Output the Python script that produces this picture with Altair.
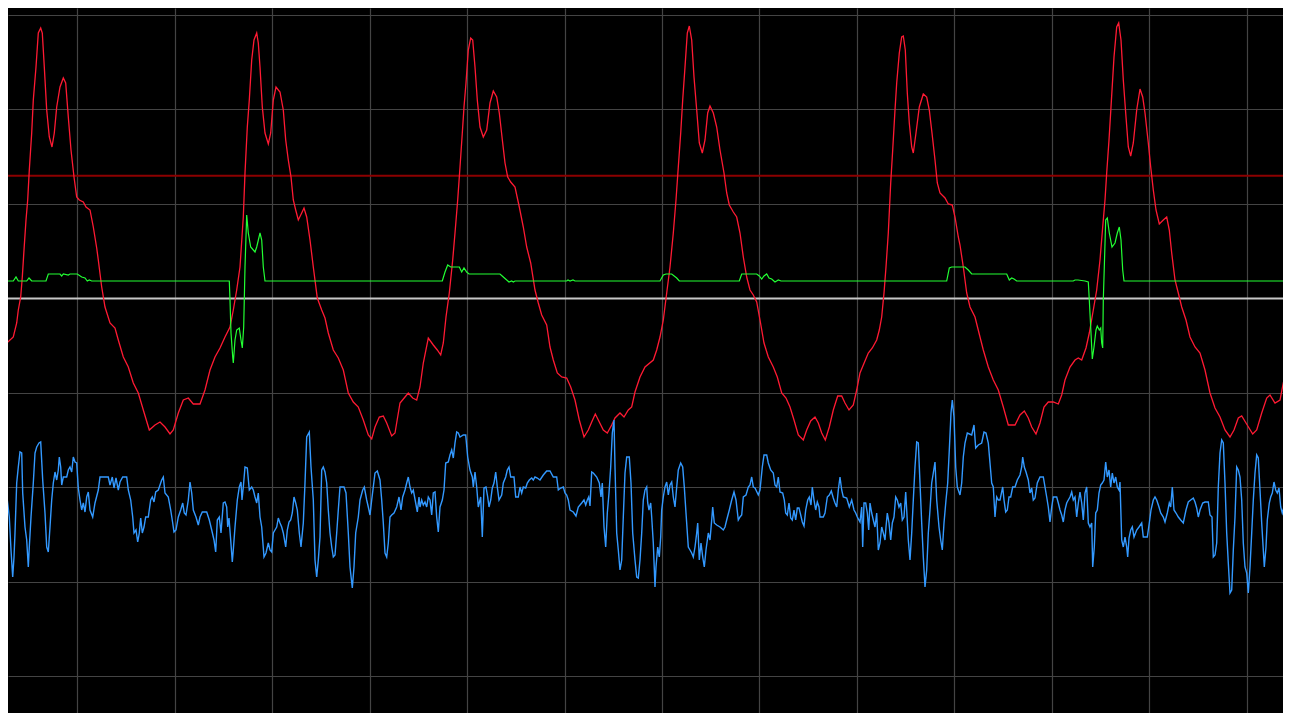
import altair as alt
import pandas as pd

# Sample index (horizontal) and screen level (downwards)
grid_t = [77.4, 174.8, 272.3, 369.6, 467.1, 564.5, 661.9, 759.3, 856.8, 954.2, 1051.6, 1149.0, 1246.5]
grid_v = [14.7, 109.2, 203.7, 298.2, 392.7, 487.2, 581.7, 676.2]

threshold_high = [175.7]
baseline = [298.5]

red_points = [
    (0,359),(3.3,347),(6.7,343),(13.3,337),(16.7,323),(18.3,310),(20.7,297),(22.3,277),(24,250),(26,220),(27.7,200),
    (29.3,170),(31.7,133),(33.3,100),(36,67),(38.3,33),(40.7,28),(42.3,33),(44.3,67),(46.7,110),(49.3,137),(52,147),
    (54.3,133),(56.7,107),(60,87),(63.3,78),(65.7,83),(68.3,117),(71,150),(74,177),(76.7,197),(79.3,200),(83.3,202),
    (86,207),(90,210),(93.3,227),(96.7,248),(98.3,260),(101.7,287),(105,307),(110,323),(115,328),(118.3,340),(123.3,357),
    (128.3,367),(133.3,383),(138.3,393),(143.3,410),(149.3,430),(155,425),(160,422),(165,427),(170,434),(173.3,430),
    (178.3,413),(183.3,400),(188.3,398),(193.3,404),(200,404),(205,390),(210,370),(215,357),(220,348),(225,337),(230,327),
    (233.3,310),(236.7,290),(240,267),(243.3,217),(245,173),(247.3,127),(249.3,100),(251.7,60),(254,40),(256.7,33),
    (258.3,43),(260,67),(262.3,107),(265,133),(268.3,144),(270.7,133),(273.3,100),(276,87),(280,92),(283.3,110),
    (285.7,140),(288.3,160),(291,177),(293.3,200),(295.7,210),(298.3,220),(301.7,213),(304,208),(306.7,217),(310,240),
    (313.3,267),(317.3,298),(321.7,310),(325,318),(328.3,333),(333.3,350),(338.3,358),(343.3,370),(348.3,393),(353.3,402),
    (358.3,407),(363.3,420),(368.3,435),(371.7,439),(375,427),(379.3,417),(383.3,416),(386.7,423),(391.7,436),(395,433),
    (400,403),(405,397),(408.3,393),(412.7,398),(416.7,400),(420,387),(423.3,363),(428.3,338),(433.3,345),(437.3,350),
    (440.7,355),(443.3,343),(446,317),(449.3,293),(452.7,260),(455,233),(457.7,200),(460,167),(462.3,133),(464,107),
    (466,83),(468.3,50),(470.7,38),(472.7,40),(475,67),(477.3,100),(480,127),(483.3,137),(486.7,130),(490,103),(493.3,91),
    (496.7,97),(499.3,113),(502.7,143),(505,163),(507.7,177),(510.7,182),(515,187),(519.3,207),(523.3,227),(526.7,247),
    (530.7,263),(535,290),(538.3,303),(541.7,315),(546.7,325),(550,347),(553.3,360),(557.3,373),(561.7,377),(566.7,378),
    (570.7,387),(575,400),(579.3,420),(584,437),(588.3,430),(591.7,422),(595.3,414),(599.3,422),(603.3,430),(607.3,433),
    (611.7,425),(615,418),(620,413),(624,417),(628.3,410),(631.7,407),(635,392),(640,377),(645,367),(653.3,360),
    (656.7,350),(660,337),(663.3,320),(666.7,293),(670,267),(673.3,233),(676,200),(678.3,167),(680.7,133),(682.7,100),
    (685,67),(687.3,33),(689.3,26),(691.7,40),(694,77),(696.7,110),(699.3,143),(702.3,153),(705,140),(707.7,113),
    (710,106),(713.3,113),(716.7,127),(720,150),(724,173),(726.7,193),(729.3,205),(733.3,212),(736.7,217),(740,233),
    (743.3,257),(746.7,277),(750,290),(753.3,295),(756.7,302),(760,320),(764,343),(768.3,357),(773.3,367),(777.3,377),
    (781.7,393),(786,398),(790,407),(794,420),(798.3,435),(803.3,440),(806.7,430),(810.7,421),(815,417),(818.3,423),
    (821.7,433),(825.3,440),(829.3,427),(833.3,410),(837.7,396),(841.7,396),(845,403),(849,410),(853.3,405),(856.7,390),
    (860,373),(863.3,365),(868.3,353),(872.3,348),(876.7,340),(879.3,330),(881.7,317),(884,293),(886,267),(888.3,233),
    (890.7,183),(892.7,150),(895,110),(896.7,83),(899.3,53),(901.7,37),(903.3,36),(905.3,50),(907.3,93),(909.3,123),
    (911.7,147),(913.3,153),(916,133),(919.3,107),(923.3,94),(926.7,97),(929.3,110),(932,133),(935,160),(937.3,183),
    (940,193),(945,198),(948.3,204),(952.3,205),(955,217),(958.3,237),(960,245),(963.3,267),(966.7,293),(970,307),
    (975,317),(980,337),(983.3,350),(988.3,367),(993.3,380),(998.3,390),(1003.3,407),(1008.3,425),(1015,425),(1020,415),
    (1024.3,411),(1028.3,418),(1031.7,427),(1036,434),(1040,423),(1044,407),(1048.3,402),(1053.3,402),(1058.3,404),
    (1061.7,395),(1065,380),(1070,367),(1075,360),(1078.3,358),(1081.7,360),(1086,348),(1089.3,333),(1093.3,310),
    (1096.7,290),(1100,260),(1102.7,227),(1105,200),(1106.7,173),(1109,140),(1111,107),(1114,57),(1116.7,27),(1118.7,23),
    (1121,40),(1123.3,80),(1126,117),(1128.3,147),(1130.7,156),(1133.3,143),(1136.7,110),(1140,89),(1142.7,97),(1145,113),
    (1148.3,143),(1150.7,167),(1153.3,190),(1156,210),(1159.3,224),(1163.3,220),(1166.7,217),(1169.3,230),(1171.7,253),
    (1175,280),(1178.3,293),(1181.7,307),(1186,320),(1190,337),(1195,347),(1200,353),(1205,370),(1210,393),(1215,408),
    (1220,417),(1225,430),(1230,437),(1234,430),(1238.3,418),(1241.7,416),(1246,423),(1252.7,434),(1256.7,430),
    (1261.7,413),(1266.7,398),(1270,395),(1275,403),(1280,400),(1283.3,383),(1286.7,370),(1290,362),
]

green_points = [
    (0,274),(3.3,275),(6,281),(13.3,281),(16,277),(18.3,281),(26.7,281),(29,278),(31.7,281),(46,281),(48.3,274),
    (60,274),(61.7,276),(63.3,274),(68.3,275),(70,274),(77.3,274),(81.7,277),(85,278),(87.3,281),(89.3,280),(91.7,281),
    (229.3,281),(230,300),(231,333),(232.7,357),(233.3,363),(235,340),(236.7,330),(239.3,328),(241,340),(242.3,348),
    (243.7,327),(245,267),(246.7,215),(248.3,233),(250.7,247),(255,252),(256.7,247),(260,233),(261.7,240),(263.3,267),
    (265,281),(442.3,281),(445,272),(447.7,265),(450.7,267),(456.7,267),(459.3,267),(461.7,272),(464,268),(466.7,272),
    (469,274),(500,274),(503.3,277),(506.7,280),(509,282),(511.7,281),(513.3,282),(515,281),(566.7,281),(568,280),
    (570,281),(573,280),(575,281),(660,281),(663.3,275),(666,274),(671.7,274),(676.7,278),(679.3,281),(739.3,281),
    (741.7,274),(756.7,274),(759.3,276),(761.7,279),(764,276),(766.7,274),(769,278),(771.7,279),(775,282),(778.3,280),
    (781,281),(946.7,281),(949.3,268),(951.7,267),(965,267),(968.3,270),(971.7,274),(1006.7,274),(1009.3,280),
    (1011.7,278),(1014,279),(1016.7,281),(1073.3,281),(1075,280),(1078,280),(1085,281),(1088.3,282),(1089.3,300),
    (1090.7,327),(1092.3,359),(1094,347),(1096,330),(1097.3,326),(1099.3,330),(1100.7,328),(1101.7,343),(1102.7,348),
    (1103.3,300),(1104.3,267),(1105.7,220),(1107.3,218),(1109.3,233),(1112,247),(1115,243),(1117.3,233),(1119.3,227),
    (1121,240),(1122.7,270),(1124,281),(1291,281),
]

blue_points = [
    (0,478),(1.7,460),(3.3,417),(5,415),(6,450),(7.3,500),(9.3,517),(11,550),(12.7,577),(14,557),(15,533),(16.7,483),
    (18.3,467),(20,452),(21.7,453),(22.7,493),(25,527),(26.7,540),(28.3,567),(29.3,547),(31,517),(33.3,483),(35,453),
    (36.7,447),(39,443),(40.7,442),(42.7,480),(45,513),(46.7,547),(48.3,552),(50,527),(51.7,500),(53.3,483),(55,472),
    (56.7,480),(58.3,470),(59.3,457),(60.7,467),(61.7,485),(63.3,477),(66.7,477),(68.3,470),(70,467),(71.7,472),
    (73.3,457),(75,462),(76.7,463),(78.3,488),(80,500),(81.7,510),(83.3,503),(85,512),(86.7,497),(88.3,492),(90,510),
    (92.7,517),(95,503),(98.3,490),(100,477),(108.3,477),(110,485),(112.3,477),(114,488),(116,478),(118.3,490),(120,482),
    (122.7,477),(126.7,477),(128.3,490),(130.7,500),(132.7,517),(134,533),(136,530),(137.7,542),(139.3,533),(140.7,518),
    (142.3,533),(144,527),(145.7,517),(148.3,517),(150.7,500),(152.3,497),(154,502),(155.7,492),(158.3,490),(161.7,480),
    (163.3,477),(165,493),(168.3,497),(170.7,510),(172.7,523),(174,532),(176,530),(178.3,517),(180.7,510),(182.7,503),
    (184.3,513),(186,515),(188.3,500),(190,482),(191.7,493),(193.3,510),(196,517),(198.3,525),(200,517),(202.3,512),
    (206.7,512),(209.3,520),(211.7,530),(214,540),(215.7,552),(217.3,520),(219.3,517),(221,533),(223.3,503),(225,502),
    (226.7,507),(227.7,527),(229,518),(230.7,540),(232.3,562),(233.3,550),(235,527),(237.3,500),(239.3,487),(241,482),
    (242,500),(243.3,487),(245,467),(247.3,468),(249.3,490),(251.7,487),(253.3,490),(255,497),(256.7,503),(258.3,493),
    (260,517),(261.7,527),(264,557),(266,553),(268.3,543),(270,550),(271.7,552),(273.3,533),(275,530),(276.7,527),
    (278.3,518),(280,523),(281.7,527),(283.3,533),(285.7,547),(287.3,530),(289,522),(290.7,520),(292.3,513),(294,497),
    (295.7,503),(297.3,510),(299.3,533),(301,547),(303.3,523),(305,483),(306.7,437),(309.3,432),(311,467),(313.3,500),
    (315,560),(316.7,577),(318.3,560),
    (320,537),(321.7,470),(323.3,467),(325,472),(326.7,483),(328.3,510),(330,533),(331.7,547),(333.3,557),(335,555),
    (336.7,533),(338.3,510),(340,487),(344,487),(346,493),(348.3,533),(350,567),(352.3,588),(354,567),(355.7,533),
    (358.3,517),(360,500),(362.7,490),(364.3,487),(366.7,500),(368.3,507),(370,515),(371.7,500),(373.3,487),(375,473),
    (377.3,471),(380,480),(381.7,500),(383.3,523),(385,553),(386.7,557),(388.3,543),(390,517),(391.7,515),(394,513),
    (396.7,507),(399,497),(401,510),(402.7,497),(405,490),(406.7,483),(408.3,477),(410,487),(411.7,493),(413.3,490),
    (415.7,503),(417.3,512),(419,497),(420,507),(421.7,500),(423.3,505),(425,502),(426.7,507),(428.3,497),(430,500),
    (431.7,515),(433.3,493),(435,492),(436.7,517),(438.3,532),(440,507),(442.3,500),(444,490),(445.7,463),(448.3,462),
    (450,455),(451.7,450),(453.3,458),(455,443),(456.7,432),(458.3,433),(460,437),(463.3,435),(465.7,435),(467.7,457),
    (470,470),(472.3,477),(473.3,487),(475,472),(476.7,487),(478.3,507),(480.7,497),(482.3,537),(484,488),(486,487),
    (487.7,497),(489,507),(490.7,500),(492.3,488),(494,483),(495.7,472),(497.3,487),(499,500),(501.7,495),(503.3,483),
    (505.7,477),(507.3,470),(509,467),(510.7,477),(514,477),(515.7,497),(518.3,497),(520,487),(521.7,493),(523.3,487),
    (525.7,488),(527.3,483),(529.3,480),(531.7,478),(533.3,480),(535,477),(537.3,478),(540,480),(543.3,475),(546.7,471),
    (550,471),(553.3,477),(556.7,477),(558.3,490),(560.7,488),(563.3,487),(565,493),(566.7,495),(568.3,500),(570,510),
    (573.3,512),(576,516),(578.3,507),(581.7,503),(584,500),(585.7,505),(587.3,500),(588.7,497),(590,506),(591.7,472),
    (593.3,473),(596.7,477),(599.3,483),(601,497),(602.3,483),(604,527),(605.7,547),(607.3,513),(609,493),(610.7,467),
    (612.3,433),(614,420),(615,467),(616.7,533),(618.3,550),(620,570),(621.7,560),(623.3,517),(625,473),(626.7,457),
    (629.3,457),(631,483),(632.7,533),(635,560),(636.7,577),(638.3,578),
    (640,560),(641.7,533),(643.3,500),(645,490),(646.7,487),(647.7,503),(649,510),(650.7,503),(651.7,517),(653.3,543),
    (655,587),(656,567),(657.7,547),(659.3,557),(660.7,537),(661.7,510),(663.3,497),(665,487),(666.7,482),(668.3,495),
    (670,485),(671.7,482),(673.3,497),(675,507),(676.7,487),(678.3,470),(680.7,463),(682.7,467),(684.3,487),(686,513),
    (688.3,547),(690,550),(691.7,553),(693.3,557),(695,547),(696.7,533),(697.7,523),(699.3,560),(701,543),(702.7,557),
    (704.3,567),(706,550),(708.3,533),(710,540),(711.7,520),(712.7,507),(714.3,523),(716.7,525),(720,527),(723.3,530),
    (725,527),(726.7,520),(729.3,510),(731.7,500),(734,492),(736,500),(738.3,520),(740,517),(741.7,515),(743.3,497),
    (746,495),(748.3,487),(750,485),(751.7,477),(753.3,487),(755,488),(758.3,495),(760,490),(762.3,467),(764,455),
    (766.7,455),(768.3,463),(770.7,470),(773.3,473),(775,485),(776.7,487),(778.3,477),(780,492),(782.7,493),(784.3,500),
    (785.7,513),(787.3,515),(789,503),(790.7,518),(792.3,520),(794,510),(795.7,520),(797.3,508),(799,508),(800.7,515),
    (802.3,522),(804,526),(805.7,510),(807.7,500),(809.3,497),(811,505),(812.3,487),(814,500),(815.7,510),(817.3,502),
    (819,507),(820,517),(823.3,517),(825,513),(827.3,497),(829.3,495),(831.3,491),(833.3,498),(835,503),(836.7,507),
    (838.3,490),(840,477),(841.7,490),(843.3,497),(846.7,498),(849.3,507),(851.7,500),(854,510),(855.7,513),(857.3,517),
    (860,522),(861.7,507),(862.7,547),(864,503),(865.7,503),(867.3,513),(868.7,530),(870,503),(871.7,513),(873.3,520),
    (875,527),(876.7,513),(878.3,550),(880,543),(881.7,527),(883.3,533),(885,540),(886,527),(887.3,513),(889,523),
    (890.7,540),(892.3,523),(894,517),(895.7,497),(897.3,500),(899,507),(900.7,503),(902.3,520),(904,517),(905.7,492),
    (906.7,510),(908.3,540),(910,560),(911.7,533),(913.3,500),(915,467),(916.7,442),(918.3,443),(920,483),(921.7,523),
    (923.3,557),(925,587),(926.7,570),(928.3,533),(930,510),(931.7,483),(933.3,473),(935,462),(936.7,500),(939,527),
    (940.7,540),(942.3,550),(944,523),(946,500),(947.7,483),(949.3,450),(951,413),(952.3,400),(954,417),(955.7,467),
    (957.3,487),
    (960,495),(961.7,483),(963.3,457),(965,443),(967.3,433),(971.7,435),(974,425),(975.7,448),(978.3,445),(981.7,443),
    (984,432),(986,433),(988.3,443),(990,463),(991.7,483),(993.3,487),(995,517),(996.7,497),(998.3,500),(1000,500),
    (1002.7,487),(1004,500),(1005.7,512),(1007.3,510),(1009,497),(1010.7,497),(1012.7,487),(1015,487),(1017.3,480),
    (1020,475),(1021.7,467),(1022.7,457),(1024.3,467),(1026,472),(1028.3,480),(1030,493),(1031.7,488),(1033.3,500),
    (1035,498),(1037.3,483),(1040,477),(1043.3,477),(1045,487),(1046.7,497),(1048.3,507),(1050,522),(1051.7,507),
    (1053.3,497),(1056.7,497),(1058.3,503),(1060,510),(1061.7,515),(1063.3,522),(1065,510),(1066.7,503),(1068.3,500),
    (1070,497),(1071.7,492),(1073.3,500),(1075,497),(1076.7,517),(1078.3,503),(1080,492),(1081.7,503),(1083.3,520),
    (1085,493),(1086.7,487),(1088.3,523),(1090,527),(1091.7,523),(1092.7,567),(1094.3,547),(1095.7,513),(1097.3,510),
    (1099,493),(1100.7,485),(1102.3,483),(1104,480),(1105.7,462),(1107.3,477),(1109,470),(1110.7,487),(1112.3,473),
    (1114,483),(1115.7,477),(1117.3,487),(1119,490),(1120,482),(1121.7,540),(1123.3,547),(1125,537),(1126.7,547),
    (1127.7,557),(1129,538),(1130.7,530),(1132.3,527),(1134,537),(1136.7,530),(1139,527),(1141.7,523),(1143.3,537),
    (1147.3,537),(1149.3,523),(1151,510),(1153.3,500),(1155,497),(1156.7,500),(1159,507),(1160.7,513),(1163.3,517),
    (1165,522),(1167.3,513),(1169.3,503),(1170.7,507),(1172.3,487),(1174,510),(1176,513),(1178.3,517),(1180.7,520),
    (1183.3,523),(1186,510),(1188.3,502),(1190.7,500),(1193.3,498),(1195,502),(1196.7,508),(1198.3,517),(1200,510),
    (1202.7,503),(1205,502),(1208.3,502),(1210,515),(1212,517),(1213.3,557),(1215,555),(1216.7,543),(1218.3,487),
    (1220,453),(1221.7,440),(1223.3,443),(1225,483),(1226.7,533),(1228.3,563),(1230,593),(1231.7,590),(1233.3,550),
    (1235,517),(1236.7,467),(1238.3,470),(1240,477),(1241.7,500),(1243.3,543),(1245,567),(1246.7,573),(1248.3,593),
    (1250,567),(1251.7,533),(1253.3,500),(1255,473),(1256.7,455),(1258.3,458),(1260,490),(1261.7,523),(1263.3,550),
    (1264.3,567),(1266,547),(1267.3,520),(1269.3,503),(1270.7,497),(1272.3,493),(1274,482),(1275.7,490),(1277.3,493),
    (1279,488),(1280.7,507),(1282.3,513),(1284,507),(1285.7,500),(1287.3,482),(1289,490),(1290,507),
]

def frame(points):
    return pd.DataFrame({"t": [p[0] for p in points], "level": [p[1] for p in points]})

red_df = frame(red_points)
green_df = frame(green_points)
blue_df = frame(blue_points)
thr_df = pd.DataFrame({"level": threshold_high})
base_df = pd.DataFrame({"level": baseline})

W, H = 1275, 705
x_scale = alt.Scale(domain=[8, 8 + W], nice=False, zero=False)
y_scale = alt.Scale(domain=[8, 8 + H], nice=False, zero=False, reverse=True)

x_axis = alt.Axis(values=grid_t, grid=True, gridColor="#444444", gridWidth=1.2, labels=False,
                  ticks=False, domain=False, title="")
y_axis = alt.Axis(values=grid_v, grid=True, gridColor="#444444", gridWidth=1.2, labels=False,
                  ticks=False, domain=False, title="")

def line(df, color, width):
    return alt.Chart(df).mark_line(color=color, strokeWidth=width, clip=True).encode(
        x=alt.X("t:Q", scale=x_scale, axis=x_axis),
        y=alt.Y("level:Q", scale=y_scale, axis=y_axis),
        order="t:Q",
    )

thr = alt.Chart(thr_df).mark_rule(color="#8c0000", strokeWidth=2).encode(
    y=alt.Y("level:Q", scale=y_scale, axis=y_axis)
)
base = alt.Chart(base_df).mark_rule(color="#c8c8c8", strokeWidth=2).encode(
    y=alt.Y("level:Q", scale=y_scale, axis=y_axis)
)

chart = alt.layer(
    thr,
    base,
    line(red_df, "#ff1a33", 1.3),
    line(green_df, "#22ff33", 1.2),
    line(blue_df, "#3399ff", 1.4),
).properties(
    width=W, height=H, padding=0,
    autosize=alt.AutoSizeParams(type="none"),
    background="#000000",
).configure_view(strokeWidth=0)

chart.save("out.html", embed_options={"renderer": "svg", "actions": False})
